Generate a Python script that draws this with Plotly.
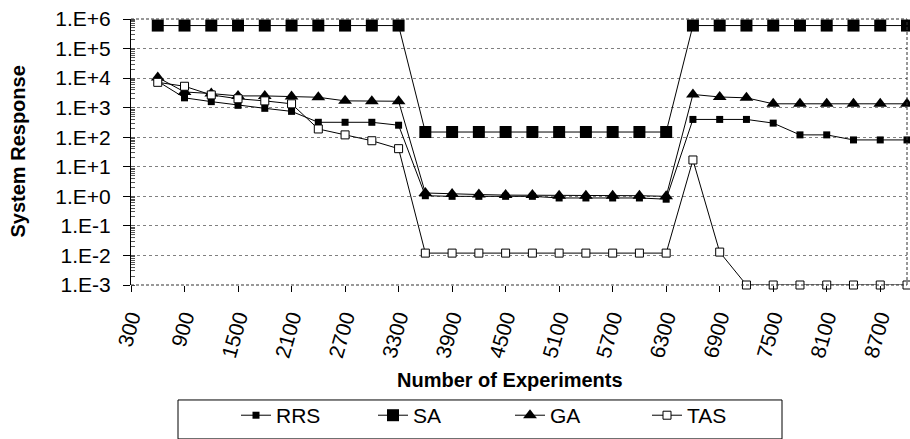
import plotly.graph_objects as go

experiments = [600, 900, 1200, 1500, 1800, 2100, 2400, 2700, 3000, 3300,
               3600, 3900, 4200, 4500, 4800, 5100, 5400, 5700, 6000, 6300,
               6600, 6900, 7200, 7500, 7800, 8100, 8400, 8700, 9000]

rrs = [7800, 2150, 1600, 1200, 950, 750, 320, 320, 320, 255,
       1.05, 1.0, 1.0, 1.0, 1.0, 0.88, 0.88, 0.88, 0.88, 0.8,
       400, 400, 400, 300, 120, 120, 81, 81, 81]

sa = [6e5, 6e5, 6e5, 6e5, 6e5, 6e5, 6e5, 6e5, 6e5, 6e5,
      150, 150, 150, 150, 150, 150, 150, 150, 150, 150,
      6e5, 6e5, 6e5, 6e5, 6e5, 6e5, 6e5, 6e5, 6e5]

ga = [10500, 3400, 3000, 2500, 2500, 2400, 2250, 1700, 1650, 1650,
      1.3, 1.2, 1.15, 1.1, 1.1, 1.05, 1.05, 1.05, 1.05, 1.0,
      2800, 2300, 2150, 1350, 1350, 1350, 1350, 1350, 1350]

tas = [7200, 5300, 2700, 2000, 1700, 1350, 190, 120, 76, 41,
       0.012, 0.012, 0.012, 0.012, 0.012, 0.012, 0.012, 0.012, 0.012, 0.012,
       17, 0.013, 0.001, 0.001, 0.001, 0.001, 0.001, 0.001, 0.001]

x_ticks = [300, 900, 1500, 2100, 2700, 3300, 3900, 4500, 5100, 5700,
           6300, 6900, 7500, 8100, 8700]
y_ticks = [1e-3, 1e-2, 1e-1, 1e0, 1e1, 1e2, 1e3, 1e4, 1e5, 1e6]
y_tick_text = ["1.E-3", "1.E-2", "1.E-1", "1.E+0", "1.E+1", "1.E+2",
               "1.E+3", "1.E+4", "1.E+5", "1.E+6"]

FONT = "Liberation Sans, Arial, sans-serif"

fig = go.Figure()
fig.add_trace(go.Scatter(x=experiments, y=rrs, name="RRS", mode="lines+markers",
                         line=dict(color="black", width=1),
                         marker=dict(symbol="square", size=7, color="black"),
                         cliponaxis=False))
fig.add_trace(go.Scatter(x=experiments, y=sa, name="SA", mode="lines+markers",
                         line=dict(color="black", width=1),
                         marker=dict(symbol="square", size=12, color="black"),
                         cliponaxis=False))
fig.add_trace(go.Scatter(x=experiments, y=ga, name="GA", mode="lines+markers",
                         line=dict(color="black", width=1),
                         marker=dict(symbol="triangle-up", size=12, color="black"),
                         cliponaxis=False))
fig.add_trace(go.Scatter(x=experiments, y=tas, name="TAS", mode="lines+markers",
                         line=dict(color="black", width=1),
                         marker=dict(symbol="square", size=8, color="white",
                                     line=dict(color="black", width=1)),
                         cliponaxis=False))

W, H = 910, 439
L, R, T, B = 131, 3, 19, 147
pw, ph = W - L - R, H - T - B

def px_x(p):
    return (p - L) / pw

def px_y(p):
    return (H - B - p) / ph

fig.update_layout(
    width=W, height=H,
    margin=dict(l=L, r=R, t=T, b=B),
    paper_bgcolor="white", plot_bgcolor="white",
    font=dict(family=FONT, size=21, color="black"),
    showlegend=True,
    legend=dict(orientation="h", x=px_x(236), xanchor="left",
                y=px_y(426), yanchor="middle",
                font=dict(size=21), bgcolor="rgba(0,0,0,0)",
                entrywidth=92, entrywidthmode="pixels",
                itemwidth=30, tracegroupgap=0),
    xaxis=dict(type="linear", range=[300, 9000], tickvals=x_ticks,
               ticktext=[str(v) for v in x_ticks], tickangle=-74,
               ticks="outside", ticklen=6, tickcolor="black",
               showgrid=False, showline=False, zeroline=False,
               tickfont=dict(size=21), ticklabelstandoff=5),
    yaxis=dict(type="log", range=[-3, 6], tickvals=y_ticks, ticktext=y_tick_text,
               ticks="outside", ticklen=7, tickcolor="black",
               showline=True, linecolor="black", linewidth=1,
               showgrid=True, gridcolor="#808080", griddash="dot", gridwidth=1,
               zeroline=False, tickfont=dict(size=21), ticklabelstandoff=8,
               minor=dict(ticks="inside", ticklen=4, tickcolor="#555",
                          dtick="D1", showgrid=False)),
    annotations=[
        dict(text="<b>System Response</b>", x=px_x(18), y=px_y(155),
             xref="paper", yref="paper", showarrow=False, textangle=-90,
             xanchor="center", yanchor="middle",
             font=dict(size=20, family=FONT)),
        dict(text="<b>Number of Experiments</b>", x=px_x(510), y=px_y(390),
             xref="paper", yref="paper", showarrow=False,
             xanchor="center", yanchor="middle",
             font=dict(size=20, family=FONT)),
    ],
    shapes=[
        dict(type="line", xref="paper", yref="paper", x0=0, x1=1, y0=1, y1=1,
             line=dict(color="#333", width=1, dash="3px,2px")),
        dict(type="line", xref="paper", yref="paper", x0=1, x1=1, y0=0, y1=1,
             line=dict(color="#333", width=1, dash="3px,2px")),
        dict(type="line", xref="paper", yref="paper", x0=0, x1=1, y0=0, y1=0,
             line=dict(color="#333", width=1, dash="3px,2px")),
        dict(type="rect", xref="paper", yref="paper",
             x0=px_x(178), x1=px_x(782), y0=px_y(410), y1=px_y(450),
             line=dict(color="black", width=1), fillcolor="rgba(0,0,0,0)"),
    ],
)

fig.write_html("out.html")
